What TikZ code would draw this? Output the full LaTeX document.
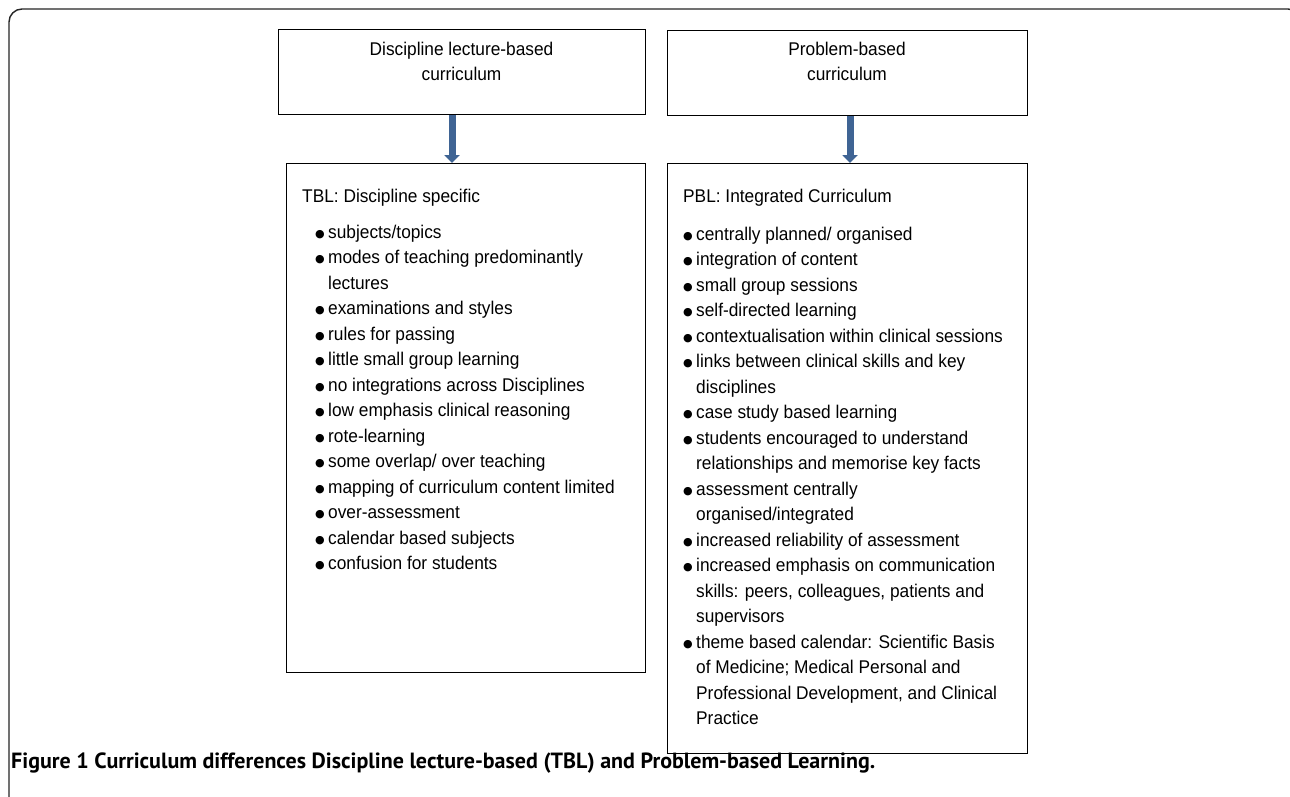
\documentclass[tikz,border=0pt]{standalone}
\usepackage{fontspec}
\setmainfont{Liberation Sans}[FakeStretch=0.94]
\newfontfamily\capfont{PT Sans}
\newfontfamily\dotfont{DejaVu Sans}
\usetikzlibrary{arrows.meta,calc}
\definecolor{arrowblue}{HTML}{3F6494}
\newcommand{\bdot}{\raisebox{0.6pt}{\dotfont\fontsize{11}{11}\selectfont ●}}
\newcommand{\bitem}[1]{\makebox[13pt][l]{\bdot}#1\par}
\newcommand{\bcont}[1]{\hspace*{13pt}#1\par}
\tikzset{
  boxshape/.style={draw=black, line width=1.3pt, inner sep=0pt, anchor=north west},
  bodyfont/.style={font=\fontsize{18.4}{25.5}\selectfont},
  txt/.style={bodyfont, inner sep=0pt, anchor=base west},
  toptxt/.style={bodyfont, inner sep=0pt, anchor=base},
  flowarrow/.style={draw=arrowblue, line width=7pt, -{Triangle[width=15pt,length=8pt]}},
  framestyle/.style={draw=black!85, line width=1.4pt, rounded corners=13pt},
  capstyle/.style={font=\capfont\bfseries\fontsize{22}{24}\selectfont, inner sep=0pt, anchor=base west}
}
\begin{document}
\begin{tikzpicture}[x=1pt,y=-1pt]
\useasboundingbox (0,0) rectangle (1290,796);
\fill[white] (0,0) rectangle (1290,796);
\draw[framestyle] (9,9) rectangle (1301,840);

% boxes
\node[boxshape, minimum width=367pt, minimum height=85pt] (A) at (278,29) {};
\node[boxshape, minimum width=360pt, minimum height=85pt] (B) at (667,30) {};
\node[boxshape, minimum width=359pt, minimum height=509pt] (C) at (286,163) {};
\node[boxshape, minimum width=360pt, minimum height=590pt] (D) at (667,163) {};

% top texts
\node[toptxt] (At) at (461.5,55) {\parbox[t]{340pt}{\centering Discipline lecture-based\\curriculum}};
\node[toptxt] (Bt) at (847,55) {\parbox[t]{340pt}{\centering Problem-based\\curriculum}};

% arrows
\coordinate (ta) at ($(A.south west)+(174,0)$);
\coordinate (tb) at ($(B.south west)+(183,0)$);
\draw[flowarrow] (ta) -- (ta |- C.north);
\draw[flowarrow] (tb) -- (tb |- D.north);

% left box
\node[txt] (Ch) at (302,202) {TBL: Discipline specific};
\node[txt] (Cl) at (315,238) {\parbox[t]{325pt}{\raggedright
\bitem{subjects/topics}
\bitem{modes of teaching predominantly}
\bcont{lectures}
\bitem{examinations and styles}
\bitem{rules for passing}
\bitem{little small group learning}
\bitem{no integrations across Disciplines}
\bitem{low emphasis clinical reasoning}
\bitem{rote-learning}
\bitem{some overlap/ over teaching}
\bitem{mapping of curriculum content limited}
\bitem{over-assessment}
\bitem{calendar based subjects}
\bitem{confusion for students}}};

% right box
\node[txt] (Dh) at (683,202) {PBL: Integrated Curriculum};
\node[txt] (Dl) at (683,240) {\parbox[t]{340pt}{\raggedright
\bitem{centrally planned/ organised}
\bitem{integration of content}
\bitem{small group sessions}
\bitem{self-directed learning}
\bitem{contextualisation within clinical sessions}
\bitem{links between clinical skills and key}
\bcont{disciplines}
\bitem{case study based learning}
\bitem{students encouraged to understand}
\bcont{relationships and memorise key facts}
\bitem{assessment centrally}
\bcont{organised/integrated}
\bitem{increased reliability of assessment}
\bitem{increased emphasis on communication}
\bcont{skills: peers, colleagues, patients and}
\bcont{supervisors}
\bitem{theme based calendar: Scientific Basis}
\bcont{of Medicine; Medical Personal and}
\bcont{Professional Development, and Clinical}
\bcont{Practice}}};

% caption
\node[capstyle] (cap) at (11,768) {Figure 1 Curriculum differences Discipline lecture-based (TBL) and Problem-based Learning.};
\end{tikzpicture}
\end{document}
